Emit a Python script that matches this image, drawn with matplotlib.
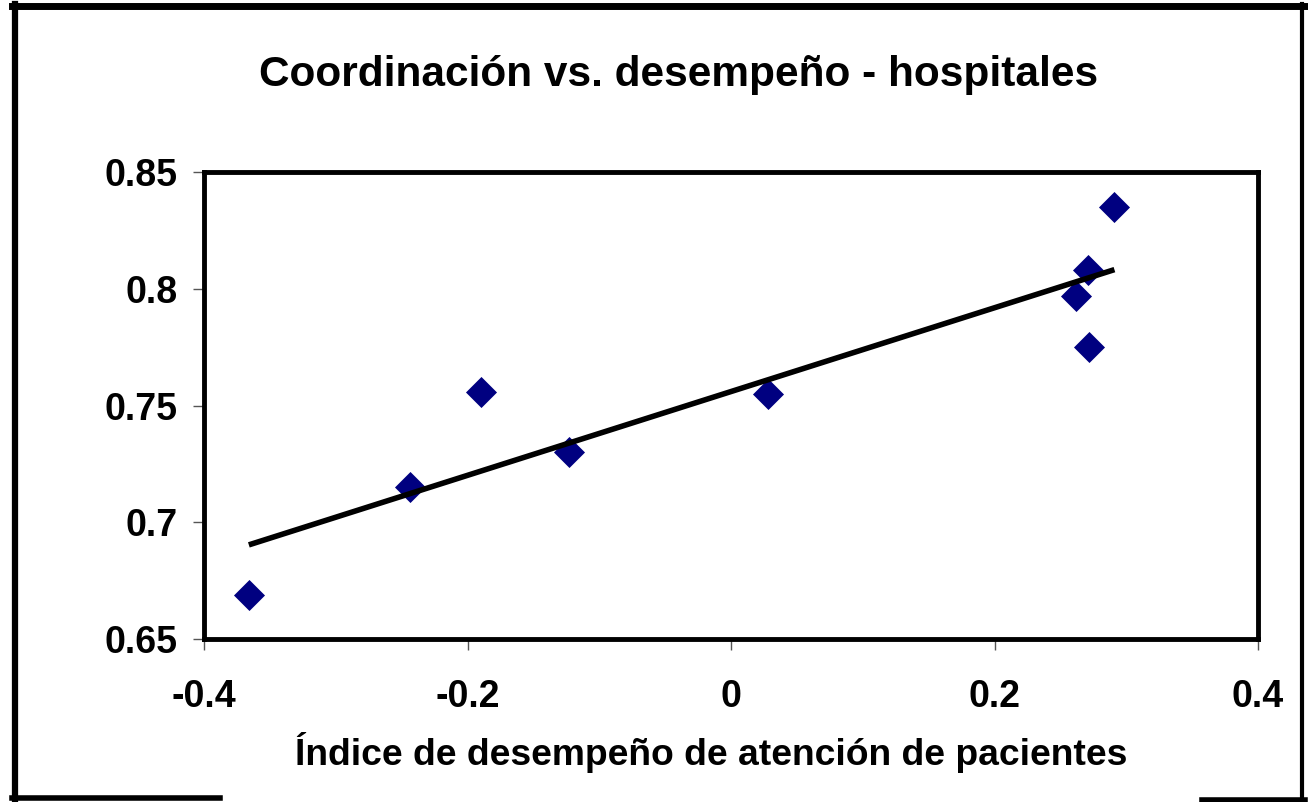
import numpy as np
import matplotlib
matplotlib.use("Agg")
import matplotlib.pyplot as plt
from matplotlib.lines import Line2D

plt.rcParams['font.family'] = ['Liberation Sans', 'DejaVu Sans']

# data
indice = [-0.366, -0.244, -0.190, -0.123, 0.028, 0.262, 0.271, 0.272, 0.291]
coordinacion = [0.669, 0.715, 0.756, 0.730, 0.755, 0.797, 0.808, 0.775, 0.835]
x_ticks = [-0.4, -0.2, 0, 0.2, 0.4]
x_labels = ["-0.4", "-0.2", "0", "0.2", "0.4"]
y_ticks = [0.65, 0.7, 0.75, 0.8, 0.85]
y_labels = ["0.65", "0.7", "0.75", "0.8", "0.85"]

fig = plt.figure(figsize=(13.08, 8.02), dpi=100)
ax = fig.add_axes([0.156, 0.2032, 0.8058, 0.5823])

ax.scatter(indice, coordinacion, marker="D", s=250, color="#000080", zorder=3, linewidths=0)

# linear trend line across the data range
slope, inter = np.polyfit(indice, coordinacion, 1)
xs = np.array([min(indice), max(indice)])
ax.plot(xs, slope * xs + inter, color="black", lw=4, solid_capstyle="butt", zorder=4)

ax.set_xlim(-0.4, 0.4)
ax.set_ylim(0.65, 0.85)
ax.set_xticks(x_ticks)
ax.set_xticklabels(x_labels)
ax.set_yticks(y_ticks)
ax.set_yticklabels(y_labels)
ax.tick_params(axis="both", length=8, width=1, color="#555555", labelsize=27)
ax.tick_params(axis="x", pad=21)
ax.tick_params(axis="y", pad=11)
for lab in ax.get_xticklabels() + ax.get_yticklabels():
    lab.set_fontweight("bold")
for sp in ax.spines.values():
    sp.set_linewidth(3.5)
    sp.set_color("black")

ax.set_xlabel("Índice de desempeño de atención de pacientes", fontsize=26.8,
              fontweight="bold")
ax.xaxis.set_label_coords(0.481, -0.200)
fig.text(0.519, 0.906, "Coordinación vs. desempeño - hospitales", fontsize=30.5,
         fontweight="bold", ha="center", va="center")

# outer frame (bottom edge broken in the middle)
W, H = 1308.0, 802.0
frame = [
    ((12, 1305), (6, 6), 5),
    ((15, 15), (4, 800), 4.5),
    ((1302, 1302), (4, 800), 3),
    ((12, 220), (798, 798), 4),
    ((1202, 1305), (800, 800), 4),
]
for (xx, yy, w) in frame:
    fig.add_artist(Line2D([x / W for x in xx], [1 - y / H for y in yy],
                          color="black", lw=w, transform=fig.transFigure))

fig.savefig("out.png", dpi=100)
